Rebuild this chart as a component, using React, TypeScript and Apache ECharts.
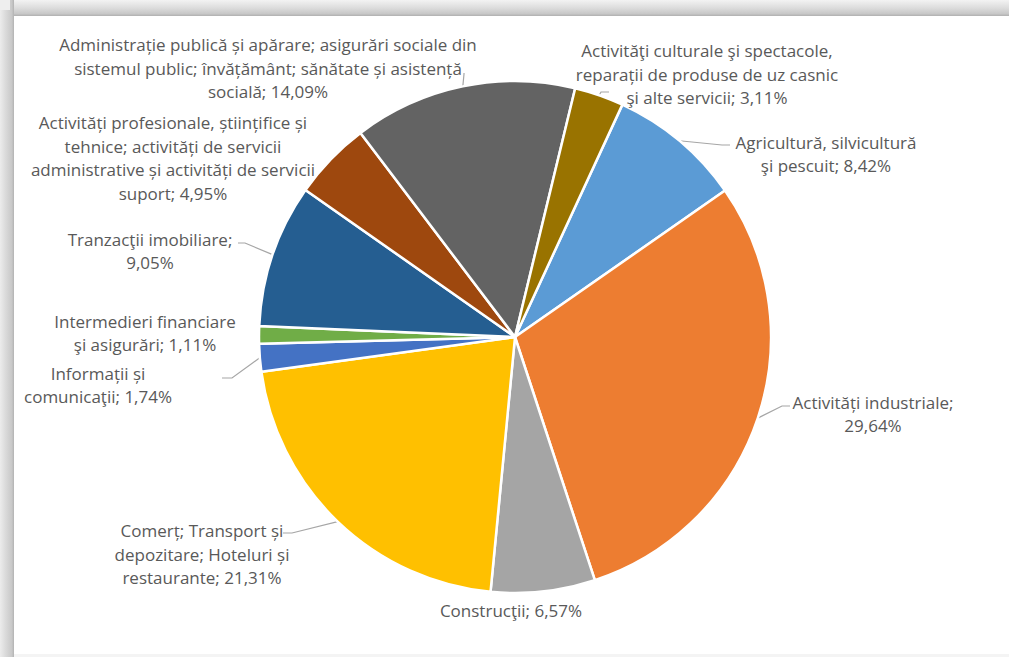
import React, { useEffect, useRef } from "react";
import * as echarts from "echarts";

// ---- data ----
const categories = [
  "Agricultură, silvicultură şi pescuit",
  "Activități industriale",
  "Construcţii",
  "Comerț; Transport și depozitare; Hoteluri și restaurante",
  "Informații și comunicaţii",
  "Intermedieri financiare şi asigurări",
  "Tranzacţii imobiliare",
  "Activități profesionale, științifice și tehnice; activități de servicii administrative și activități de servicii suport",
  "Administrație publică și apărare; asigurări sociale din sistemul public; învățământ; sănătate și asistență socială",
  "Activităţi culturale şi spectacole, reparații de produse de uz casnic şi alte servicii",
];
const shares = [8.42, 29.64, 6.57, 21.31, 1.74, 1.11, 9.05, 4.95, 14.09, 3.11];

// ---- presentation ----
const colors = [
  "#5B9BD5", "#ED7D31", "#A5A5A5", "#FFC000", "#4472C4",
  "#70AD47", "#255E91", "#9E480E", "#636363", "#997300",
];
// number of words on each line of each label
const lineWords = [
  [2, 3], [2, 1], [2], [3, 3, 2], [2, 2], [2, 3], [2, 1], [4, 4, 5, 2], [7, 6, 2], [4, 6, 4],
];
// label block centres
const labelPos: [number, number][] = [
  [826, 154], [873, 414], [511, 610], [202, 554], [98, 385],
  [145, 333], [150, 251], [173, 158], [268, 68], [707, 74],
];
// leader line bend and end points (null = no leader)
const leaders: ([number, number][] | null)[] = [
  [[722, 145], [730, 145]],
  [[782, 406], [790, 406]],
  null,
  [[292, 533], [283, 533]],
  [[232, 378], [222, 378]],
  null,
  [[245, 243], [238, 243]],
  null,
  [[464, 74], [464, 73]],
  [[601, 92], [609, 92]],
];

const fmtPct = (v: number) => v.toFixed(2).replace(".", ",") + "%";

function labelText(i: number) {
  const words = `${categories[i]}; ${fmtPct(shares[i])}`.split(" ");
  const lines: string[] = [];
  let k = 0;
  for (const n of lineWords[i]) {
    lines.push(words.slice(k, k + n).join(" "));
    k += n;
  }
  return lines.join("\n");
}

const FONT = "'Open Sans', Lato, sans-serif";

export default function App() {
  const ref = useRef<HTMLDivElement>(null);
  useEffect(() => {
    if (!ref.current) return;
    const chart = echarts.init(ref.current, null, { renderer: "svg" });
    const cx = 515;
    const cy = 337;
    const r = 256;
    chart.setOption({
      animation: false,
      backgroundColor: "#ffffff",
      textStyle: { fontFamily: FONT },
      graphic: [
        {
          type: "rect",
          z: -10,
          shape: { x: 0, y: 0, width: 1009, height: 16 },
          style: {
            fill: new echarts.graphic.LinearGradient(0, 0, 0, 1, [
              { offset: 0, color: "#f3f3f3" },
              { offset: 0.5, color: "#dcdcdc" },
              { offset: 0.85, color: "#c8c8c8" },
              { offset: 1, color: "#b0b0b0" },
            ]),
          },
        },
        {
          type: "rect",
          z: -10,
          shape: { x: 0, y: 0, width: 14, height: 657 },
          style: {
            fill: new echarts.graphic.LinearGradient(0, 0, 1, 0, [
              { offset: 0, color: "#ececec" },
              { offset: 0.45, color: "#d8d8d8" },
              { offset: 0.85, color: "#c8c8c8" },
              { offset: 1, color: "#b2b2b2" },
            ]),
          },
        },
        {
          type: "rect",
          z: -9,
          shape: { x: 0, y: 0, width: 10, height: 10 },
          style: { fill: "#eeeeee" },
        },
        {
          type: "rect",
          z: -10,
          shape: { x: 14, y: 654, width: 995, height: 3 },
          style: { fill: "#f4f4f4" },
        },
      ],
      series: [
        {
          type: "pie",
          center: [cx, cy],
          radius: r,
          startAngle: 65.2,
          clockwise: true,
          avoidLabelOverlap: false,
          itemStyle: { borderColor: "#ffffff", borderWidth: 2.5 },
          label: {
            show: true,
            position: "outside",
            color: "#595959",
            fontSize: 17,
            lineHeight: 23.5,
            fontFamily: FONT,
            formatter: (p: any) => labelText(p.dataIndex),
          },
          labelLine: {
            show: true,
            length: 10,
            length2: 10,
            lineStyle: { color: "#A6A6A6", width: 1.2 },
          },
          labelLayout: (p: any) => {
            const i = p.dataIndex;
            const [x, y] = labelPos[i];
            const out: any = { x, y, align: "center", verticalAlign: "middle" };
            const lead = leaders[i];
            if (lead && p.labelLinePoints) {
              out.labelLinePoints = [p.labelLinePoints[0], lead[0], lead[1]];
            }
            return out;
          },
          data: categories.map((name, i) => ({
            name,
            value: shares[i],
            itemStyle: { color: colors[i] },
            labelLine: { show: leaders[i] !== null },
          })),
        },
      ],
    });
    return () => chart.dispose();
  }, []);
  return (
    <div
      ref={ref}
      style={{ position: "fixed", left: 0, top: 0, width: 1009, height: 657 }}
    />
  );
}
